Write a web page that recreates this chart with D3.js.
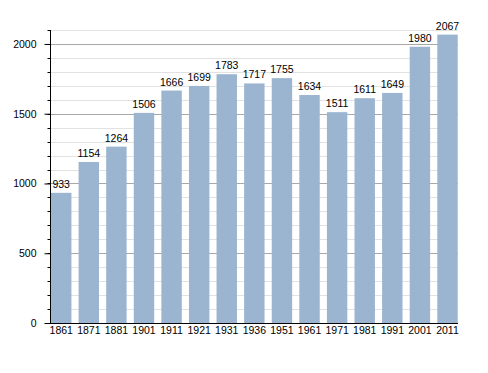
<!DOCTYPE html>
<html>
<head>
<meta charset="utf-8">
<script src="https://cdn.jsdelivr.net/npm/d3@7"></script>
<style>
  body { margin: 0; background: #fff; }
  text { font-family: "Liberation Sans", Arial, sans-serif; }
</style>
</head>
<body>
<svg width="488" height="373"></svg>
<script>
// census years and population
const years = ["1861", "1871", "1881", "1901", "1911", "1921", "1931", "1936", "1951", "1961", "1971", "1981", "1991", "2001", "2011"];
const population = [933, 1154, 1264, 1506, 1666, 1699, 1783, 1717, 1755, 1634, 1511, 1611, 1649, 1980, 2067];
const majorTicks = [0, 500, 1000, 1500, 2000];
const minorTicks = d3.range(0, 2101, 100);

const svg = d3.select('svg');

// plot area edges
const plotLeft = 50, plotRight = 458, plotBottom = 323, plotTop = 30;
const fontSize = "10.5px";

const x = d3.scaleBand()
  .domain(years)
  .range([51, 457.7])
  .paddingInner(0.26)
  .paddingOuter(0);

const y = d3.scaleLinear()
  .domain([0, 2100])
  .range([plotBottom, plotTop]);

// minor grid
svg.append("g")
  .selectAll("line")
  .data(minorTicks.filter(d => d % 500 !== 0))
  .enter().append("line")
  .attr("x1", plotLeft).attr("x2", plotRight)
  .attr("y1", d => Math.round(y(d)) + 0.5)
  .attr("y2", d => Math.round(y(d)) + 0.5)
  .attr("stroke", "#e2e2e2");

// major grid
svg.append("g")
  .selectAll("line")
  .data(majorTicks.filter(d => d > 0))
  .enter().append("line")
  .attr("x1", plotLeft).attr("x2", plotRight)
  .attr("y1", d => Math.round(y(d)) + 0.5)
  .attr("y2", d => Math.round(y(d)) + 0.5)
  .attr("stroke", "#a8a8a8");

// bars
svg.selectAll("rect.bar")
  .data(population)
  .enter().append("rect")
  .attr("class", "bar")
  .attr("x", (d, i) => x(years[i]))
  .attr("y", d => y(d))
  .attr("width", x.bandwidth())
  .attr("height", d => y(0) - y(d))
  .attr("fill", "#9bb4d0");

// value labels
svg.selectAll("text.val")
  .data(population)
  .enter().append("text")
  .attr("class", "val")
  .attr("x", (d, i) => x(years[i]) + x.bandwidth() / 2)
  .attr("y", d => y(d) - 5)
  .attr("text-anchor", "middle")
  .attr("font-size", fontSize)
  .attr("fill", "#000")
  .text(d => d);

// y axis
const yAxis = svg.append("g")
  .attr("transform", `translate(${plotLeft + 0.5},0)`);

yAxis.selectAll("line.minor")
  .data(minorTicks)
  .enter().append("line")
  .attr("x1", -3).attr("x2", 0)
  .attr("y1", d => Math.round(y(d)) + 0.5)
  .attr("y2", d => Math.round(y(d)) + 0.5)
  .attr("stroke", "#000");

yAxis.call(d3.axisLeft(y).tickValues(majorTicks).tickFormat(d3.format("d")).tickSize(6).tickPadding(8).tickSizeOuter(0))
  .call(g => g.select(".domain").attr("d", `M0,${plotTop}V${plotBottom}`))
  .call(g => g.selectAll("text").attr("font-size", fontSize).attr("font-family", "Liberation Sans, Arial, sans-serif"));

// x axis
svg.append("line")
  .attr("x1", plotLeft).attr("x2", plotRight)
  .attr("y1", plotBottom + 0.5).attr("y2", plotBottom + 0.5)
  .attr("stroke", "#000");

svg.append("g")
  .attr("transform", `translate(0,${plotBottom})`)
  .call(d3.axisBottom(x).tickSize(0).tickPadding(4))
  .call(g => g.select(".domain").remove())
  .call(g => g.selectAll("text").attr("font-size", fontSize).attr("font-family", "Liberation Sans, Arial, sans-serif"));
</script>
</body>
</html>
